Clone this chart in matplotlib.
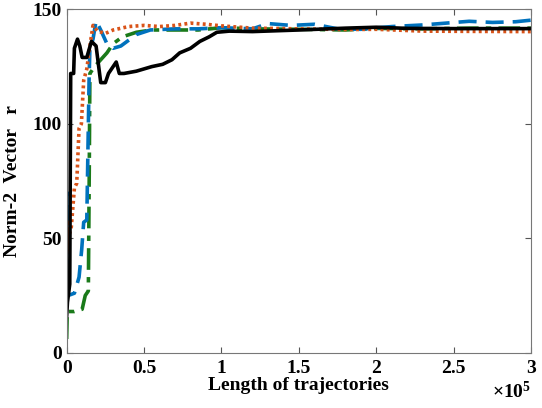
import numpy as np
import matplotlib
matplotlib.use("Agg")
import matplotlib.pyplot as plt
from matplotlib.ticker import FuncFormatter

# trajectory length (x 1e5) and norm-2 of vector r
black_x = [0, 0.005, 0.02, 0.026, 0.045, 0.05, 0.07, 0.085, 0.1, 0.13, 0.16, 0.19, 0.22,
           0.25, 0.27, 0.32, 0.34, 0.37, 0.45, 0.5, 0.55, 0.62, 0.68, 0.73, 0.8, 0.86, 0.92,
           0.97, 1.05, 1.2, 1.5, 1.8, 2.0, 2.2, 2.5, 3.0]
black_y = [16, 22, 30, 122, 122, 133, 137, 134, 129, 129, 136, 134, 118, 118, 122, 127, 122,
           122, 123, 124, 125, 126, 128, 131, 133, 136, 138, 140, 140.5, 140.3, 141, 141.8,
           142.2, 141.7, 141.6, 141.6]

blue_x = [0, 0.002, 0.004, 0.006, 0.01, 0.05, 0.08, 0.097, 0.11, 0.13, 0.145, 0.15, 0.17, 0.19,
          0.22, 0.26, 0.3, 0.35, 0.45, 0.54, 0.7, 0.85, 1.0, 1.2, 1.3, 1.45, 1.6, 1.75, 1.9,
          2.1, 2.3, 2.45, 2.6, 2.75, 2.9, 3.0]
blue_y = [40, 70, 55, 25, 25, 26, 33, 45, 57, 58, 120, 133, 137, 145, 141, 135, 133, 134, 139,
          141, 141.5, 141.5, 142, 141.5, 143.8, 143, 143.5, 141.5, 141.3, 142.5, 143.2, 144,
          144.8, 144.3, 144.6, 145.3]

green_x = [0, 0.003, 0.006, 0.05, 0.1, 0.12, 0.14, 0.146, 0.15, 0.18, 0.22, 0.26, 0.3, 0.36,
           0.45, 0.55, 0.7, 0.85, 1.0, 1.2, 1.5, 1.8, 2.0, 2.3, 2.6, 3.0]
green_y = [6, 15, 18, 18, 19, 25, 27, 80, 122, 125, 128, 131, 135, 138, 140, 141, 141, 141,
           142, 141.5, 141.3, 141, 141.7, 141.5, 141.8, 141.8]

orange_x = [0, 0.003, 0.006, 0.01, 0.03, 0.05, 0.065, 0.08, 0.095, 0.11, 0.13, 0.15, 0.17,
            0.2, 0.25, 0.3, 0.4, 0.5, 0.6, 0.7, 0.8, 0.9, 1.0, 1.2, 1.5, 1.8, 2.0, 2.3, 2.6, 3.0]
orange_y = [35, 58, 45, 50, 55, 72, 74, 98, 100, 119, 124, 134, 143, 140.5, 139.5, 141, 142.5,
            143, 142.5, 143, 144, 143.5, 142.8, 141.8, 141.5, 141.2, 141.3, 140.5, 140.4, 140.3]

plt.rcParams['font.family'] = ['Liberation Serif', 'DejaVu Serif']
plt.rcParams['font.weight'] = 'bold'
plt.rcParams['mathtext.fontset'] = 'custom'
plt.rcParams['mathtext.rm'] = 'Liberation Serif:bold'
plt.rcParams['mathtext.bf'] = 'Liberation Serif:bold'

fig = plt.figure(figsize=(5.42, 4.08), dpi=100)
ax = fig.add_axes([0.123, 0.1355, 0.857, 0.8415])

sc = 1e5
ax.plot(np.array(green_x) * sc, green_y, color='#1a7a1a', lw=2.6, ls=(0, (6, 2, 1.5, 2)))
ax.plot(np.array(blue_x) * sc, blue_y, color='#0072BD', lw=2.6, ls=(0, (5, 2.5)))
ax.plot(np.array(orange_x) * sc, orange_y, color='#D95319', lw=2.6, ls=(0, (0.8, 0.9)))
ax.plot(np.array(black_x) * sc, black_y, color='black', lw=2.6)

ax.set_xlim(0, 3e5)
ax.set_ylim(0, 150)
ax.set_xticks(np.arange(0, 3.01, 0.5) * sc)
ax.set_yticks([0, 50, 100, 150])
ax.xaxis.set_major_formatter(FuncFormatter(lambda v, p: '%g' % (v / sc)))
ax.tick_params(direction='in', top=True, right=True, labelsize=14, length=4, color='#555555')
ax.tick_params(axis='x', pad=5)
for s in ax.spines.values():
    s.set_color('#777777')
    s.set_linewidth(0.8)

ax.set_xlabel('Length of trajectories', fontsize=14, fontweight='bold', labelpad=0)
ax.set_ylabel('Norm-2  Vector   r', fontsize=14, fontweight='bold', labelpad=8)
ax.text(1.0, -0.082, r'$\times\mathrm{10^{5}}$', transform=ax.transAxes, ha='right', va='top',
        fontsize=14)

fig.savefig('out.png', dpi=100)
